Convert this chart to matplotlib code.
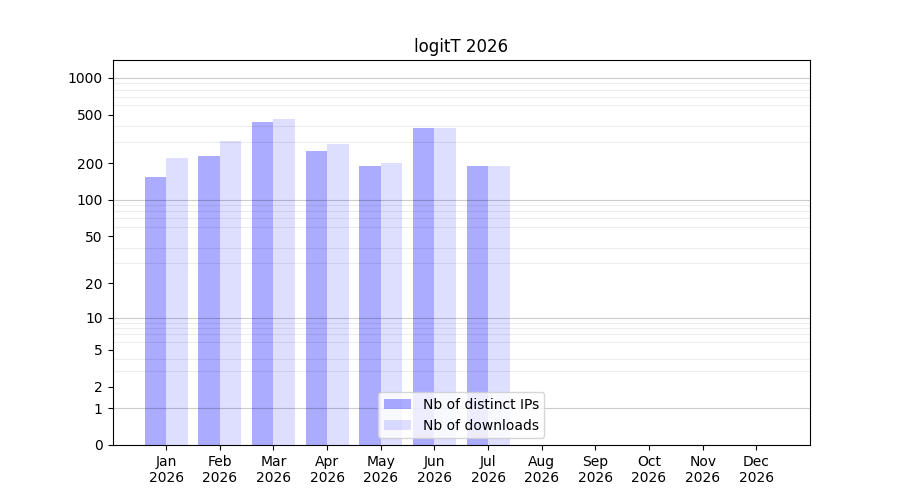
import numpy as np
import matplotlib
matplotlib.use('Agg')
import matplotlib.pyplot as plt
from matplotlib.ticker import FixedLocator, NullFormatter

months = ['Jan', 'Feb', 'Mar', 'Apr', 'May', 'Jun', 'Jul', 'Aug', 'Sep', 'Oct', 'Nov', 'Dec']
year = 2026
distinct_ips = [153, 227, 439, 254, 188, 392, 191]
downloads = [222, 306, 464, 290, 199, 392, 191]

yticks = [0, 1, 2, 5, 10, 20, 50, 100, 200, 500, 1000]
ytop = 1400


def fwd(x):
	return np.log10(1 + np.clip(x, 0, None))


def inv(y):
	return 10 ** y - 1


fig, ax = plt.subplots(figsize=(9, 5))
x = np.arange(len(distinct_ips))
width = 0.4
ax.bar(x, distinct_ips, -width, align='edge', color='blue', alpha=0.33, label='Nb of distinct IPs')
ax.bar(x, downloads, width, align='edge', color='blue', alpha=0.13, label='Nb of downloads')

ax.set_yscale('function', functions=(fwd, inv))
ax.set_ylim(0, ytop)
ax.set_xlim(-1, len(months))

ax.yaxis.set_major_locator(FixedLocator(yticks))
ax.set_yticklabels([str(t) for t in yticks])
minor = [m * 10 ** k for k in range(3) for m in range(1, 10)]
ax.yaxis.set_minor_locator(FixedLocator(minor))
ax.yaxis.set_minor_formatter(NullFormatter())
ax.tick_params(axis='y', which='minor', length=0)
ax.grid(which='minor', axis='y', color='k', alpha=0.07, lw=0.8)
for d in [1, 10, 100, 1000]:
	ax.axhline(d, color='k', alpha=0.2, lw=0.8)

ax.set_xticks(np.arange(len(months)))
ax.set_xticklabels([m + '\n' + str(year) for m in months])
ax.set_title('logitT ' + str(year))
ax.legend(loc='lower center')

plt.savefig('out.png', dpi=100)
